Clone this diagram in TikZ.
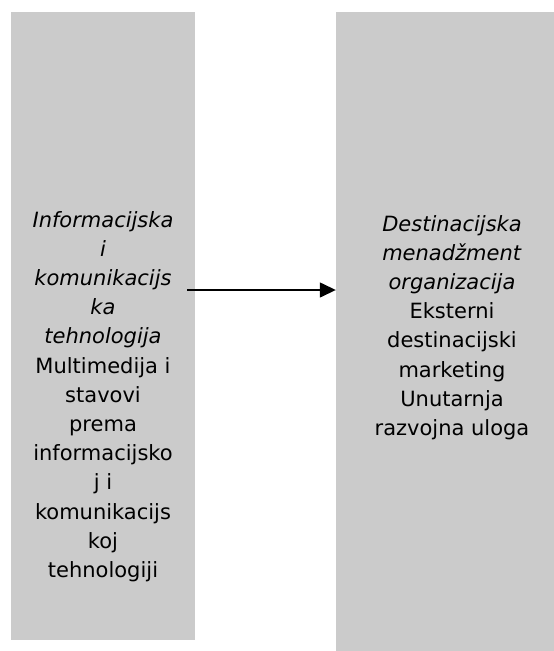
\documentclass[tikz,border=0pt]{standalone}
\usepackage{fontspec}
\setmainfont{DejaVu Sans}
\usetikzlibrary{arrows.meta,positioning,calc}
\definecolor{colBox}{HTML}{CBCBCB}
\tikzset{
  panel/.style={draw=none, fill=colBox, inner sep=0pt},
  paneltext/.style={align=center, inner sep=0pt, font=\fontsize{21}{29.2}\selectfont},
  link/.style={-{Triangle[length=16pt, width=15pt]}, line width=1.4pt, black}
}
\begin{document}
\begin{tikzpicture}[x=1pt, y=-1pt]
  \useasboundingbox (0,0) rectangle (554,651);
  % the two panels
  \node[panel, minimum width=184pt, minimum height=628pt] (ictbox) at (103,326) {};
  \node[panel, minimum width=232pt, minimum height=660pt] (dmobox) at (452,342) {};
  % their texts
  \node[paneltext] (icttext) at (103,396.5) {\textit{Informacijska}\\ \textit{i}\\ \textit{komunikacijs}\\ \textit{ka}\\ \textit{tehnologija}\\ Multimedija i\\ stavovi\\ prema\\ informacijsko\\ j i\\ komunikacijs\\ koj\\ tehnologiji};
  \node[paneltext] (dmotext) at (452,327.5) {\textit{Destinacijska}\\ \textit{menadžment}\\ \textit{organizacija}\\ Eksterni\\ destinacijski\\ marketing\\ Unutarnja\\ razvojna uloga};
  % connector
  \coordinate (linkstart) at (187,290);
  \draw[link] (linkstart) -- (linkstart -| dmobox.west);
\end{tikzpicture}
\end{document}
